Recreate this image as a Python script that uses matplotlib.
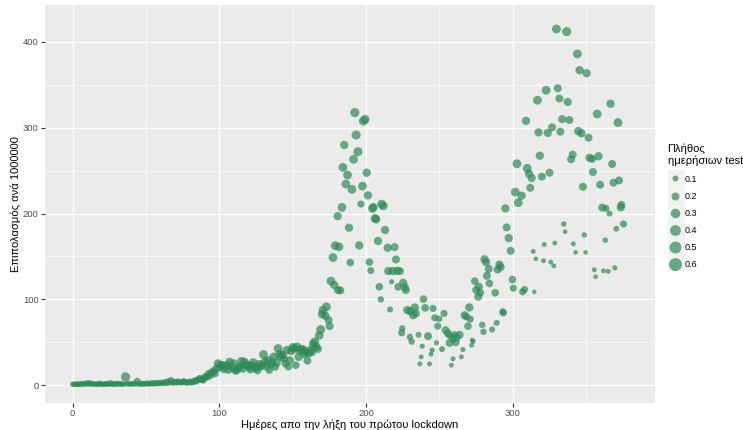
import numpy as np
import matplotlib
matplotlib.use("Agg")
import matplotlib.pyplot as plt
from matplotlib.lines import Line2D
from matplotlib.patches import Rectangle

plt.rcParams["font.family"] = ["Liberation Sans", "DejaVu Sans"]

# days 0..169, one point per day
early_cases = [
    1.0, 1.2, 0.8, 1.5, 1.1, 0.9, 1.8, 1.3, 1.0, 2.2,
    1.6, 2.5, 1.2, 1.9, 1.0, 1.4, 0.9, 1.7, 1.2, 2.0,
    1.1, 0.8, 1.5, 1.3, 1.9, 1.0, 2.4, 1.2, 0.9, 1.6,
    1.3, 2.0, 1.1, 1.8, 0.9, 1.4, 9.7, 1.5, 2.1, 1.0,
    1.7, 1.2, 2.3, 1.4, 4.8, 1.6, 1.1, 2.0, 1.3, 1.8,
    1.5, 2.4, 1.2, 1.9, 2.6, 1.4, 2.1, 2.9, 1.7, 2.5,
    3.1, 2.0, 2.8, 3.6, 2.2, 4.5, 3.0, 5.8, 2.6, 3.4,
    3.9, 2.7, 4.2, 3.3, 2.9, 3.8, 4.6, 3.1, 2.6, 3.5,
    4.1, 3.0, 3.7, 5.2, 4.4, 5.8, 7.2, 7.8, 6.5, 5.8,
    9.1, 10.5, 9.7, 13.6, 11.7, 14.8, 16.2, 13.6, 19.5, 25.3,
    21.0, 23.3, 23.3, 18.5, 21.4, 23.3, 17.5, 27.2, 22.0, 19.4,
    25.3, 16.5, 17.5, 21.0, 21.4, 28.0, 19.0, 27.2, 24.0, 23.3,
    21.4, 18.0, 23.3, 26.5, 19.4, 21.0, 17.0, 24.5, 21.4, 23.3,
    35.8, 27.2, 21.4, 29.0, 17.5, 24.0, 27.0, 33.0, 21.4, 26.0,
    42.7, 36.0, 33.0, 35.0, 31.0, 25.0, 40.8, 21.4, 29.0, 40.0,
    44.0, 42.7, 23.3, 44.7, 33.0, 40.0, 41.6, 41.5, 36.0, 38.9,
    28.4, 36.9, 40.8, 38.8, 47.8, 50.5, 44.7, 42.3, 58.0, 64.8,
]
early_tests = [
    0.08, 0.07, 0.08, 0.09, 0.07, 0.08, 0.09, 0.08, 0.07, 0.10,
    0.09, 0.11, 0.08, 0.09, 0.07, 0.08, 0.07, 0.09, 0.08, 0.09,
    0.08, 0.07, 0.08, 0.09, 0.08, 0.07, 0.10, 0.08, 0.07, 0.09,
    0.08, 0.09, 0.07, 0.08, 0.07, 0.08, 0.28, 0.08, 0.09, 0.07,
    0.08, 0.07, 0.09, 0.08, 0.13, 0.08, 0.07, 0.09, 0.08, 0.09,
    0.08, 0.09, 0.07, 0.08, 0.10, 0.08, 0.09, 0.10, 0.08, 0.09,
    0.10, 0.08, 0.09, 0.11, 0.09, 0.12, 0.10, 0.13, 0.09, 0.11,
    0.11, 0.09, 0.12, 0.10, 0.09, 0.11, 0.12, 0.10, 0.09, 0.11,
    0.12, 0.10, 0.11, 0.13, 0.12, 0.14, 0.15, 0.16, 0.14, 0.13,
    0.16, 0.17, 0.16, 0.19, 0.17, 0.19, 0.20, 0.18, 0.21, 0.23,
    0.21, 0.22, 0.23, 0.19, 0.21, 0.22, 0.18, 0.23, 0.21, 0.19,
    0.23, 0.18, 0.19, 0.21, 0.20, 0.23, 0.19, 0.23, 0.21, 0.22,
    0.21, 0.18, 0.22, 0.23, 0.19, 0.21, 0.17, 0.22, 0.20, 0.21,
    0.25, 0.22, 0.19, 0.23, 0.17, 0.21, 0.22, 0.24, 0.19, 0.22,
    0.25, 0.23, 0.22, 0.23, 0.21, 0.19, 0.24, 0.17, 0.21, 0.24,
    0.25, 0.24, 0.18, 0.25, 0.22, 0.24, 0.24, 0.23, 0.22, 0.23,
    0.19, 0.22, 0.23, 0.22, 0.25, 0.25, 0.23, 0.22, 0.25, 0.26,
]
early_days = list(range(len(early_cases)))

# second and third wave, read point by point
late_days = [
    170.6, 169.9, 172.2, 172.9, 174.4, 175.1, 176.0, 177.4, 178.3, 179.0,
    180.6, 180.8, 181.5, 182.4, 183.5, 184.2, 185.1, 186.2, 187.3, 188.3,
    189.2, 190.3, 191.4, 192.3, 193.2, 194.4, 195.3, 196.4, 197.5, 198.2,
    199.3, 200.4, 201.2, 202.2, 203.2, 204.3, 205.0, 206.1, 206.8, 208.1,
    209.0, 210.0, 210.6, 211.7, 212.9, 214.7, 215.1, 216.3, 217.4, 218.1,
    219.4, 220.3, 221.2, 221.9, 223.0, 224.2, 224.6, 225.3, 226.4, 227.1,
    228.0, 229.8, 229.8, 231.0, 232.1, 233.2, 233.9, 235.7, 236.6, 237.5,
    238.2, 239.1, 240.2, 242.2, 243.2, 244.2, 245.0, 245.6, 246.8, 247.9,
    248.8, 249.7, 251.7, 253.1, 254.2, 255.8, 256.9, 257.0, 258.1, 259.2,
    259.2, 260.3, 261.0, 261.9, 263.7, 264.9, 266.0, 267.1, 268.3, 269.4,
    270.3, 271.0, 271.9, 272.3, 273.0, 274.1, 275.0, 276.4, 276.8, 277.8,
    279.1, 280.0, 280.7, 281.8, 282.3, 283.6, 284.0, 285.9, 288.0, 289.0,
    289.7, 290.8, 291.7, 293.1, 293.6, 294.9, 295.8, 297.2, 298.5, 299.7,
    300.3, 301.7, 302.8, 303.7, 306.0, 306.7, 308.0, 309.0, 309.8, 311.0,
    311.9, 312.8, 313.9, 314.6, 315.7, 316.8, 317.5, 318.4, 319.8, 320.9,
    321.4, 322.7, 323.8, 325.0, 325.9, 326.8, 327.9, 328.6, 329.7, 330.6,
    331.7, 332.4, 333.6, 334.7, 335.6, 336.7, 337.4, 338.5, 339.7, 340.8,
    341.2, 342.8, 344.0, 344.6, 345.5, 346.7, 347.8, 348.7, 349.6, 350.3,
    351.6, 352.3, 354.0, 354.6, 355.5, 356.4, 357.5, 358.4, 359.5, 360.9,
    361.8, 363.0, 363.4, 365.0, 365.9, 366.6, 367.7, 368.6, 369.5, 370.6,
    371.7, 372.4, 373.6, 374.0, 375.4,
]
late_cases = [
    87.5, 82.8, 80.8, 91.3, 75.8, 68.8, 121.3, 148.7, 116.6, 162.5,
    197.0, 110.8, 161.3, 110.4, 207.2, 253.8, 279.9, 234.4, 244.9, 183.5,
    142.9, 228.2, 263.2, 317.6, 291.5, 272.0, 162.9, 211.0, 232.0, 307.9,
    309.8, 247.6, 221.2, 143.4, 133.6, 206.0, 207.5, 194.4, 193.2, 168.0,
    114.7, 100.0, 211.0, 209.0, 180.8, 160.1, 133.0, 88.2, 120.5, 133.0,
    160.9, 146.5, 133.3, 114.6, 133.0, 61.0, 66.0, 119.3, 113.9, 110.8,
    87.5, 86.3, 56.3, 50.9, 81.6, 90.5, 83.6, 58.7, 24.9, 33.0,
    45.5, 100.3, 90.1, 57.1, 24.9, 36.2, 40.8, 89.4, 78.5, 49.4,
    68.8, 77.3, 42.0, 83.6, 64.0, 60.3, 49.3, 58.0, 23.3, 30.7,
    54.4, 58.3, 50.1, 55.5, 58.7, 33.0, 41.5, 81.6, 79.7, 68.8,
    90.6, 77.0, 46.6, 52.5, 51.0, 121.3, 110.8, 103.0, 114.6, 107.6,
    70.3, 62.2, 146.6, 143.4, 127.5, 135.6, 118.6, 64.8, 107.7, 72.6,
    134.8, 140.7, 137.6, 85.5, 84.3, 206.0, 183.9, 171.4, 156.6, 123.0,
    113.0, 225.0, 258.0, 212.6, 220.8, 108.8, 111.5, 308.0, 252.7, 246.4,
    230.0, 241.4, 155.9, 108.8, 147.3, 332.0, 294.6, 267.4, 243.0, 145.0,
    164.0, 343.7, 294.0, 247.6, 143.4, 300.5, 139.0, 165.6, 415.0, 346.0,
    334.0, 295.4, 310.0, 187.8, 178.8, 412.0, 330.0, 309.0, 263.2, 268.6,
    164.8, 154.7, 386.0, 296.0, 367.0, 293.5, 231.2, 175.0, 154.7, 363.5,
    288.4, 265.0, 263.6, 248.4, 134.5, 126.4, 316.0, 266.7, 233.6, 207.0,
    133.3, 169.0, 206.0, 132.6, 200.0, 328.0, 257.7, 236.0, 136.8, 182.3,
    306.0, 238.6, 207.3, 210.0, 187.8,
]
late_tests = [
    0.25, 0.22, 0.22, 0.25, 0.20, 0.20, 0.25, 0.25, 0.22, 0.25,
    0.22, 0.20, 0.25, 0.20, 0.25, 0.25, 0.22, 0.25, 0.25, 0.22,
    0.18, 0.25, 0.25, 0.27, 0.27, 0.27, 0.22, 0.15, 0.25, 0.27,
    0.25, 0.22, 0.22, 0.18, 0.15, 0.25, 0.22, 0.25, 0.22, 0.22,
    0.18, 0.12, 0.25, 0.25, 0.22, 0.22, 0.22, 0.10, 0.07, 0.22,
    0.20, 0.20, 0.22, 0.18, 0.20, 0.15, 0.12, 0.22, 0.20, 0.20,
    0.22, 0.20, 0.12, 0.12, 0.22, 0.22, 0.20, 0.10, 0.06, 0.06,
    0.07, 0.18, 0.18, 0.20, 0.06, 0.06, 0.07, 0.15, 0.15, 0.07,
    0.15, 0.13, 0.10, 0.15, 0.20, 0.20, 0.20, 0.15, 0.06, 0.06,
    0.20, 0.20, 0.20, 0.18, 0.20, 0.06, 0.07, 0.20, 0.18, 0.18,
    0.22, 0.15, 0.06, 0.06, 0.06, 0.18, 0.20, 0.20, 0.22, 0.18,
    0.12, 0.12, 0.22, 0.22, 0.20, 0.20, 0.18, 0.10, 0.18, 0.10,
    0.20, 0.20, 0.20, 0.15, 0.15, 0.22, 0.20, 0.22, 0.20, 0.18,
    0.15, 0.25, 0.25, 0.25, 0.22, 0.15, 0.15, 0.22, 0.25, 0.22,
    0.20, 0.22, 0.06, 0.05, 0.05, 0.25, 0.22, 0.22, 0.20, 0.06,
    0.06, 0.25, 0.22, 0.20, 0.06, 0.20, 0.06, 0.06, 0.25, 0.20,
    0.20, 0.20, 0.20, 0.08, 0.05, 0.27, 0.22, 0.20, 0.20, 0.20,
    0.06, 0.05, 0.25, 0.22, 0.22, 0.22, 0.20, 0.08, 0.05, 0.22,
    0.20, 0.22, 0.20, 0.20, 0.06, 0.05, 0.25, 0.22, 0.20, 0.20,
    0.06, 0.08, 0.15, 0.06, 0.10, 0.22, 0.20, 0.20, 0.07, 0.10,
    0.25, 0.20, 0.22, 0.20, 0.15,
]

legend_values = [0.1, 0.2, 0.3, 0.4, 0.5, 0.6]

POINT_COLOR = "#2E8B57"
PANEL_BG = "#EBEBEB"
TEXT_GREY = "#4D4D4D"


def diameter_px(v):
    # ggplot-like area scale, diameter in pixels at 100 dpi
    return 1.18 + 15.25 * np.sqrt(v)


def marker_area(v):
    return (diameter_px(np.asarray(v)) * 0.72) ** 2


days = np.array(early_days + late_days)
cases = np.array(early_cases + late_cases)
tests = np.array(early_tests + late_tests)

fig = plt.figure(figsize=(7.43, 4.30), dpi=100)
ax = fig.add_axes([45 / 743, 1 - 403 / 430, 610 / 743, 398 / 430])
ax.set_facecolor(PANEL_BG)

ax.scatter(days, cases, s=marker_area(tests), color=POINT_COLOR,
           alpha=0.7, linewidths=0, zorder=3)

ax.set_xlim(-18.9, 396.9)
ax.set_ylim(-20.75, 443)
ax.set_xticks([0, 100, 200, 300])
ax.set_yticks([0, 100, 200, 300, 400])
ax.set_xticks([50, 150, 250, 350], minor=True)
ax.set_yticks([50, 150, 250, 350], minor=True)
ax.grid(True, which="major", color="white", linewidth=1.0, zorder=0)
ax.grid(True, which="minor", color="white", linewidth=0.5, zorder=0)
ax.set_axisbelow(True)
for spine in ax.spines.values():
    spine.set_visible(False)
ax.tick_params(which="major", length=3, width=0.8, color="#333333",
               labelsize=6.8, labelcolor=TEXT_GREY, pad=1.5)
ax.tick_params(which="minor", length=0)

ax.set_xlabel("Ημέρες απο την λήξη του πρώτου lockdown", fontsize=8,
              color="black", labelpad=1)
ax.set_ylabel("Επιπολασμός ανά 1000000", fontsize=8, color="black",
              labelpad=1)

# legend
handles = [Line2D([], [], linestyle="none", marker="o",
                  markersize=diameter_px(v) * 0.72, markerfacecolor=POINT_COLOR,
                  markeredgewidth=0, alpha=0.7) for v in legend_values]
fig.patches.append(Rectangle((668 / 743, 1 - 271 / 430), 17 / 743, 101 / 430,
                             transform=fig.transFigure, facecolor="#F2F2F2",
                             edgecolor="none", zorder=0))
leg = fig.legend(handles, [str(v) for v in legend_values], loc="upper left",
                 bbox_to_anchor=(664 / 743, 1 - 140 / 430), frameon=False,
                 title="Πλήθος\nημερήσιων test", fontsize=6.5,
                 title_fontsize=8, labelspacing=0.9, handletextpad=0.3,
                 handlelength=1.6, borderaxespad=0)
leg._legend_box.align = "left"
leg._legend_box.sep = 6

fig.savefig("out.png", dpi=100)
